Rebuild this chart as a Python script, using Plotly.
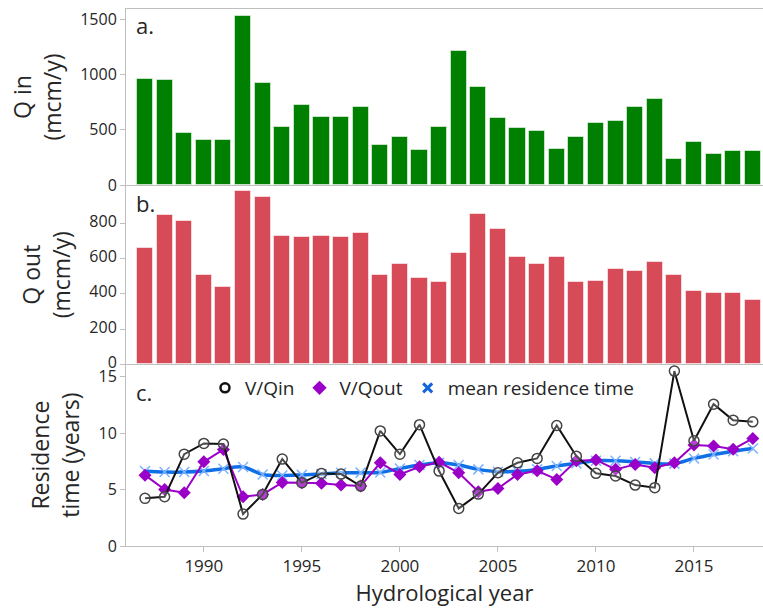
import plotly.graph_objects as go
from plotly.subplots import make_subplots

years = list(range(1987, 2019))

q_in = [960, 951, 468, 407, 407, 1530, 920, 528, 724, 619, 613, 709, 359,
        438, 314, 522, 1210, 890, 604, 516, 486, 326, 432, 558, 579, 703,
        776, 238, 392, 281, 308, 308]

q_out = [657, 847, 815, 504, 438, 985, 951, 728, 721, 725, 721, 743, 508,
         568, 489, 466, 630, 851, 768, 610, 568, 606, 466, 472, 540, 530,
         583, 506, 417, 406, 404, 362]

v_qin = [4.22, 4.36, 8.14, 9.09, 9.03, 2.83, 4.57, 7.70, 5.60, 6.43, 6.37,
         5.31, 10.2, 8.14, 10.75, 6.64, 3.33, 4.60, 6.49, 7.37, 7.76, 10.68,
         7.96, 6.44, 6.20, 5.40, 5.17, 15.5, 9.32, 12.57, 11.15, 11.0]

v_qout = [6.28, 5.00, 4.72, 7.46, 8.56, 4.36, 4.57, 5.63, 5.60, 5.55, 5.40,
          5.31, 7.37, 6.34, 7.02, 7.43, 6.49, 4.81, 5.10, 6.34, 6.66, 5.90,
          7.55, 7.63, 6.79, 7.23, 6.94, 7.37, 8.94, 8.85, 8.58, 9.53]

mean_rt = [6.64, 6.55, 6.55, 6.64, 6.85, 7.00, 6.34, 6.25, 6.30, 6.38, 6.49,
           6.50, 6.52, 6.87, 7.17, 7.37, 7.17, 6.79, 6.58, 6.62, 6.79, 7.09,
           7.32, 7.56, 7.56, 7.45, 7.32, 7.30, 7.76, 8.11, 8.40, 8.64]

FONT = "Open Sans"
TXT = "#262626"
AX = "#bfbfbf"

fig = make_subplots(rows=3, cols=1, shared_xaxes=True, vertical_spacing=0)

fig.add_trace(go.Bar(x=years, y=q_in, width=0.82, marker_color="#008000",
                     marker_line=dict(color="rgba(255,255,255,0.55)", width=1),
                     showlegend=False), row=1, col=1)
fig.add_trace(go.Bar(x=years, y=q_out, width=0.82, marker_color="#d64b57",
                     marker_line=dict(color="rgba(255,255,255,0.55)", width=1),
                     showlegend=False), row=2, col=1)

fig.add_trace(go.Scatter(x=years, y=mean_rt, mode="lines+markers",
                         line=dict(color="#0f6fe6", width=3.5, shape="spline"),
                         marker=dict(symbol="x-thin-open", size=10,
                                     color="#80b3ff",
                                     line=dict(color="#80b3ff", width=1.5)),
                         showlegend=False), row=3, col=1)
fig.add_trace(go.Scatter(x=years, y=v_qout, mode="lines+markers",
                         line=dict(color="#9b00c8", width=2),
                         marker=dict(symbol="diamond", size=10, color="#9b00c8"),
                         showlegend=False), row=3, col=1)
fig.add_trace(go.Scatter(x=years, y=v_qin, mode="lines+markers",
                         line=dict(color="#111111", width=2),
                         marker=dict(symbol="circle", size=10,
                                     color="rgba(255,255,255,0.25)",
                                     line=dict(color="#444444", width=1.5)),
                         showlegend=False), row=3, col=1)

# legend-only entries (markers only, as in the reference)
fig.add_trace(go.Scatter(x=[None], y=[None], mode="markers", name="V/Qin",
                         marker=dict(symbol="circle-open", size=9,
                                     color="#111111",
                                     line=dict(color="#111111", width=2.5))),
              row=3, col=1)
fig.add_trace(go.Scatter(x=[None], y=[None], mode="markers", name="V/Qout",
                         marker=dict(symbol="diamond", size=11, color="#9b00c8")),
              row=3, col=1)
fig.add_trace(go.Scatter(x=[None], y=[None], mode="markers",
                         name="mean residence time",
                         marker=dict(symbol="x-thin-open", size=9,
                                     color="#1565d8",
                                     line=dict(color="#1565d8", width=3))),
              row=3, col=1)

H = 537.0
d_top = (546 - 185) / H
d_mid = (546 - 364.3) / H

xr = [1986.03, 2018.52]
common_x = dict(range=xr, showline=True, linecolor=AX, linewidth=1,
                showgrid=False, zeroline=False)
fig.update_xaxes(**common_x)
fig.update_xaxes(mirror=True, ticks="", showticklabels=False, row=1, col=1)
fig.update_xaxes(ticks="", showticklabels=False, row=2, col=1)
fig.update_xaxes(ticks="outside", ticklen=5, tickcolor=AX, dtick=5, tick0=1990,
                 showticklabels=True,
                 tickfont=dict(family=FONT, size=17, color=TXT),
                 title=dict(text="Hydrological year",
                            font=dict(family=FONT, size=22, color=TXT),
                            standoff=8),
                 row=3, col=1)

common_y = dict(showline=True, linecolor=AX, linewidth=1, showgrid=False,
                zeroline=False, ticks="outside", ticklen=5, tickcolor=AX,
                tickfont=dict(family=FONT, size=16, color=TXT))
fig.update_yaxes(**common_y)
fig.update_yaxes(range=[0, 1594], tickvals=[0, 500, 1000, 1500],
                 domain=[d_top, 1.0],
                 title=dict(text="Q in<br>(mcm/y)",
                            font=dict(family=FONT, size=23, color=TXT),
                            standoff=12),
                 row=1, col=1)
fig.update_yaxes(range=[0, 1017], tickvals=[0, 200, 400, 600, 800],
                 domain=[d_mid, d_top], ticklabelshift=-2,
                 title=dict(text="Q out<br>(mcm/y)",
                            font=dict(family=FONT, size=23, color=TXT),
                            standoff=12),
                 row=2, col=1)
fig.update_yaxes(range=[0, 16.1], tickvals=[0, 5, 10, 15],
                 domain=[0.0, d_mid],
                 title=dict(text="Residence<br>time (years)",
                            font=dict(family=FONT, size=23, color=TXT),
                            standoff=12),
                 row=3, col=1)

for txt, yref, yy in [("a.", "y domain", 0.91), ("b.", "y2 domain", 0.90),
                      ("c.", "y3 domain", 0.85)]:
    fig.add_annotation(text=txt, xref="x domain", yref=yref, x=0.012, y=yy,
                       xanchor="left", yanchor="middle", showarrow=False,
                       font=dict(family=FONT, size=22, color=TXT))

fig.update_layout(
    width=763, height=610,
    margin=dict(l=126, r=0, t=9, b=64, autoexpand=False),
    paper_bgcolor="white", plot_bgcolor="white",
    bargap=0,
    font=dict(family=FONT, color=TXT),
    legend=dict(orientation="h", x=0.124, y=(546 - 388) / H, xanchor="left",
                yanchor="middle", font=dict(family=FONT, size=19, color=TXT),
                bgcolor="rgba(0,0,0,0)", itemclick=False),
)

fig.write_html("out.html")
